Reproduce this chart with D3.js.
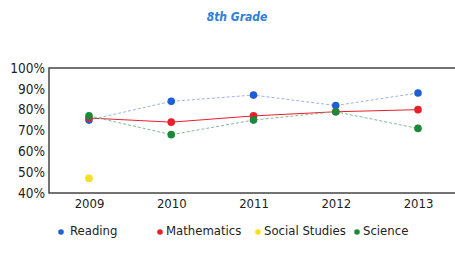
<!DOCTYPE html>
<html><head><meta charset="utf-8">
<script src="https://cdn.jsdelivr.net/npm/d3@7"></script>
<style>body{margin:0;background:#fff}svg{display:block}</style>
</head><body>
<svg id="c" width="455" height="258"></svg>
<script>
const years = ["2009","2010","2011","2012","2013"];
const yTicks = [40,50,60,70,80,90,100];
const reading = [75,84,87,82,88];
const mathematics = [76,74,77,79,80];
const socialStudies = [47,null,null,null,null];
const science = [77,68,75,79,71];
const seriesNames = ["Reading","Mathematics","Social Studies","Science"];
const seriesColors = ["#1f5fd6","#e8202a","#f5e020","#1a8a3a"];
const lineColors = ["#9db3e6","#e8202a","#f5e020","#86b894"];
const seriesData = [reading, mathematics, socialStudies, science];

const svg = d3.select("#c");
const font = "DejaVu Sans Condensed, DejaVu Sans, sans-serif";
const x = d3.scalePoint().domain(years).range([89,418]);
const y = d3.scaleLinear().domain([40,100]).range([193,68]);

svg.append("text").attr("x",237).attr("y",21).attr("text-anchor","middle")
  .attr("font-family",font).attr("font-size",12).attr("font-style","italic").attr("font-weight","bold")
  .attr("fill","#2f7fd8").text("8th Grade");

// frame
svg.append("rect").attr("x",49).attr("y",68).attr("width",420).attr("height",125)
  .attr("fill","none").attr("stroke","#444").attr("stroke-width",1.5);

const yAxis = d3.axisLeft(y).tickValues(yTicks).tickFormat(d=>d+"%").tickSize(0).tickPadding(4);
const gy = svg.append("g").attr("transform","translate(49,0)").call(yAxis);
gy.select(".domain").remove();
gy.selectAll("text").attr("font-family",font).attr("font-size",13.5).attr("fill","#222");

const xAxis = d3.axisBottom(x).tickSize(0).tickPadding(6);
const gx = svg.append("g").attr("transform","translate(0,193)").call(xAxis);
gx.select(".domain").remove();
gx.selectAll("text").attr("font-family",font).attr("font-size",13).attr("fill","#222");

seriesData.forEach((vals,i)=>{
  const pts = years.map((yr,j)=>({yr,v:vals[j]})).filter(p=>p.v!=null);
  const line = d3.line().x(p=>x(p.yr)).y(p=>y(p.v));
  if(pts.length>1){
    svg.append("path").datum(pts).attr("d",line).attr("fill","none")
      .attr("stroke",lineColors[i]).attr("stroke-width",1)
      .attr("stroke-dasharray",i===1?null:"3,2");
  }
  svg.selectAll(null).data(pts).enter().append("circle")
    .attr("cx",p=>x(p.yr)).attr("cy",p=>y(p.v)).attr("r",3.8)
    .attr("fill",seriesColors[i]);
});

// legend
const legX = [61,160,258,357];
seriesNames.forEach((n,i)=>{
  svg.append("circle").attr("cx",legX[i]).attr("cy",232).attr("r",2.8).attr("fill",seriesColors[i]);
  svg.append("text").attr("x",legX[i]+(i===0?9:6)).attr("y",235).attr("font-family",font).attr("font-size",13)
    .attr("fill","#222").text(n);
});
</script>
</body></html>
